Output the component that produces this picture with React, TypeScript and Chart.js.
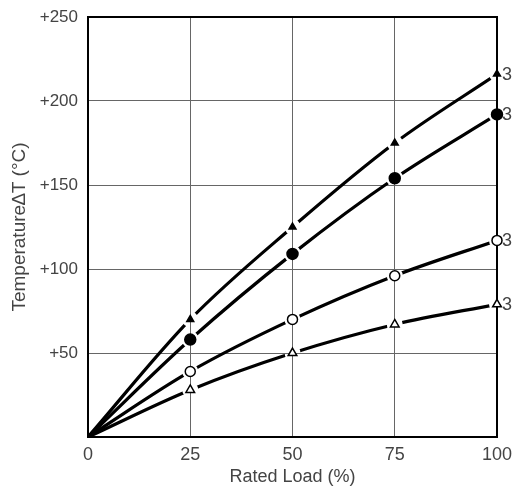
import { useEffect, useRef } from "react";
import { Chart, registerables } from "chart.js";
Chart.register(...registerables);

const loads = [0, 25, 50, 75, 100];
const seriesFilledTriangle = [0, 70, 125, 175, 216];
const seriesFilledCircle = [0, 58, 109, 154, 192];
const seriesOpenCircle = [0, 39, 70, 96, 117];
const seriesOpenTriangle = [0, 28, 50, 67, 79];
const endLabels = ["3", "3", "3", "3"];
const xTitle = "Rated Load (%)";
const yTitle = "Temperature∆T (°C)";

const FONT = "'Liberation Sans', Arial, sans-serif";
const TEXT = "#444";

const gapPlugin = {
  id: "gapPlugin",
  beforeDatasetDraw(chart: any, args: any) {
    const ds = chart.data.datasets[args.index];
    if (!ds.gap) return;
    const ctx = chart.ctx;
    const meta = chart.getDatasetMeta(args.index);
    ctx.save();
    ctx.beginPath();
    ctx.rect(0, 0, chart.width, chart.height);
    meta.data.forEach((p: any, i: number) => {
      if (i === 0) return;
      ctx.moveTo(p.x + ds.gap, p.y);
      ctx.arc(p.x, p.y, ds.gap, 0, Math.PI * 2);
    });
    ctx.clip("evenodd");
  },
  afterDatasetDraw(chart: any, args: any) {
    const ds = chart.data.datasets[args.index];
    if (!ds.gap) return;
    chart.ctx.restore();
  },
};

const framePlugin = {
  id: "framePlugin",
  beforeDatasetsDraw(chart: any) {
    const { ctx, chartArea } = chart;
    ctx.save();
    ctx.strokeStyle = "#000";
    ctx.lineWidth = 2;
    ctx.strokeRect(chartArea.left, chartArea.top, chartArea.right - chartArea.left, chartArea.bottom - chartArea.top);
    ctx.restore();
  },
  afterDraw(chart: any) {
    const { ctx } = chart;
    ctx.save();
    ctx.fillStyle = TEXT;
    ctx.font = `18px ${FONT}`;
    ctx.textBaseline = "middle";
    ctx.textAlign = "left";
    chart.data.datasets.forEach((ds: any, i: number) => {
      if (ds.endLabel === undefined) return;
      const meta = chart.getDatasetMeta(i);
      const p = meta.data[meta.data.length - 1];
      ctx.fillText(ds.endLabel, p.x + 5, p.y + 1);
    });
    ctx.restore();
  },
};

export default function App() {
  const ref = useRef<HTMLCanvasElement>(null);
  useEffect(() => {
    const toPts = (v: number[]) => v.map((y, i) => ({ x: loads[i], y }));
    const series = [
      { v: seriesFilledTriangle, style: "triangle", r: 4, bg: "#000", gap: 8 },
      { v: seriesFilledCircle, style: "circle", r: 5.5, bg: "#000", gap: 8.5 },
      { v: seriesOpenCircle, style: "circle", r: 5, bg: "#fff", gap: 8 },
      { v: seriesOpenTriangle, style: "triangle", r: 5, bg: "#fff", gap: 8 },
    ];
    const datasets: any[] = [];
    series.forEach((s, i) => {
      datasets.push({
        data: toPts(s.v).slice(1),
        showLine: false,
        pointStyle: s.style,
        pointRadius: s.r,
        pointBackgroundColor: s.bg,
        pointBorderColor: "#000",
        pointBorderWidth: 1.5,
        endLabel: endLabels[i],
        clip: false,
        order: 0,
      });
      datasets.push({
        data: toPts(s.v),
        borderColor: "#000",
        borderWidth: 3.2,
        pointRadius: 0,
        cubicInterpolationMode: "monotone",
        fill: false,
        gap: s.gap,
        order: 1,
      });
    });
    const chart = new Chart(ref.current!, {
      type: "line",
      data: { datasets },
      plugins: [gapPlugin, framePlugin],
      options: {
        responsive: false,
        animation: false,
        layout: { padding: { top: 17, right: 16, left: 0, bottom: 0 } },
        plugins: { legend: { display: false }, tooltip: { enabled: false } },
        scales: {
          x: {
            type: "linear",
            min: 0,
            max: 100,
            afterFit: (s: any) => {
              s.height = 51;
              s.paddingLeft = 0;
              s.paddingRight = 0;
            },
            ticks: {
              stepSize: 25,
              color: TEXT,
              font: { size: 18, family: FONT },
              padding: 7,
            },
            grid: { color: "#666", lineWidth: 1, drawTicks: false },
            border: { display: false },
            title: {
              display: true,
              text: xTitle,
              color: TEXT,
              font: { size: 18, family: FONT },
              padding: { top: 0, bottom: 0 },
            },
          },
          y: {
            type: "linear",
            min: 0,
            max: 250,
            afterFit: (s: any) => {
              s.width = 88;
              s.paddingTop = 0;
              s.paddingBottom = 0;
            },
            ticks: {
              stepSize: 50,
              color: TEXT,
              font: { size: 17, family: FONT },
              padding: 10,
              callback: (v: any) => (v === 0 ? "" : "+" + v),
            },
            grid: { color: "#666", lineWidth: 1, drawTicks: false },
            border: { display: false },
            title: {
              display: true,
              text: yTitle,
              color: TEXT,
              font: { size: 19, family: FONT },
              padding: { top: 8, bottom: 0 },
            },
          },
        },
      } as any,
    });
    return () => chart.destroy();
  }, []);
  return (
    <div style={{ position: "fixed", left: 0, top: 0, width: 513, height: 488, background: "#fff" }}>
      <canvas ref={ref} width={513} height={488} />
    </div>
  );
}
